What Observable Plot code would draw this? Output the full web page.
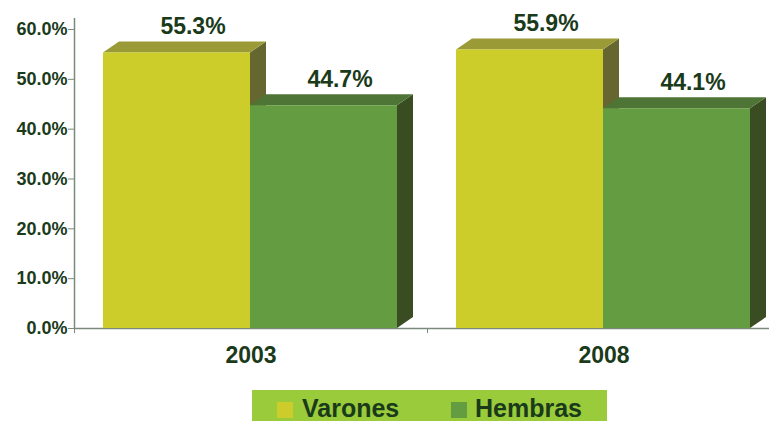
<!DOCTYPE html>
<html>
<head>
<meta charset="utf-8">
<script src="https://cdn.jsdelivr.net/npm/d3@7"></script>
<script src="https://cdn.jsdelivr.net/npm/@observablehq/plot@0.6"></script>
<style>
  html, body { margin: 0; padding: 0; background: #fff; }
  body { font-family: "Liberation Sans", Arial, sans-serif; }
  #wrap { position: relative; width: 769px; height: 421px; overflow: hidden; }
  #legend { position: absolute; left: 252px; top: 390px; width: 355px; height: 31px; background: #99cb3a; }
  .sw { position: absolute; top: 12px; width: 16px; height: 16px; }
  .lb { position: absolute; top: 6px; font-size: 25px; font-weight: bold; color: #1a3a1a; line-height: 24px; }
</style>
</head>
<body>
<div id="wrap"><div id="chart"></div><div id="legend"></div></div>
<script>
// ---- data ----
const years = ["2003", "2008"];
const series = ["Varones", "Hembras"];
const varones = [55.3, 55.9];
const hembras = [44.7, 44.1];
const yTicks = [0, 10, 20, 30, 40, 50, 60];

// ---- styles ----
const frontColors = ["#cccc2b", "#639c41"];
const topColors = ["#9a9a36", "#4e7535"];
const sideColors = ["#666631", "#394c22"];
const textColor = "#1a3a1a";
const axisColor = "#7c8a7c";

// ---- layout ----
const W = 769, H = 390, mL = 74, mT = 29, mB = 62;
const bandPx = 353, padPx = 29, barPx = 147, depthXPx = 16, depthYPx = 11;
const xMax = (W - mL) / bandPx;
const pxPerY = (H - mT - mB) / 60;
const pad = padPx / bandPx, bw = barPx / bandPx;
const dX = depthXPx / bandPx, dY = depthYPx / pxPerY;

const rows = years.flatMap((year, g) => series.map((sex, k) => {
  const v = k === 0 ? varones[g] : hembras[g];
  const x1 = g + pad + k * bw;
  return {year, sex, k, g, value: v, x1, x2: x1 + bw, id: year + sex};
}));

function faces(r) {
  const {x1, x2, value: v, id} = r;
  return {
    side: [
      {id, x: x2, y1: 0, y2: v},
      {id, x: x2 + dX, y1: dY, y2: v + dY}
    ],
    top: [
      {id, x: x1, y1: v, y2: v},
      {id, x: x1 + dX, y1: v, y2: v + dY},
      {id, x: x2, y1: v, y2: v + dY},
      {id, x: x2 + dX, y1: v + dY, y2: v + dY}
    ]
  };
}

const marks = [];
series.forEach((s, k) => {
  const rs = rows.filter(r => r.k === k);
  marks.push(Plot.areaY(rs.flatMap(r => faces(r).side), {x: "x", y1: "y1", y2: "y2", z: "id", fill: sideColors[k], curve: "linear"}));
  marks.push(Plot.areaY(rs.flatMap(r => faces(r).top), {x: "x", y1: "y1", y2: "y2", z: "id", fill: topColors[k], curve: "linear"}));
  marks.push(Plot.rectY(rs, {x1: "x1", x2: "x2", y1: 0, y2: "value", fill: frontColors[k]}));
});

const chart = Plot.plot({
  width: W, height: H,
  marginLeft: mL, marginRight: 0, marginTop: mT, marginBottom: mB,
  style: {fontFamily: "'Liberation Sans', Arial, sans-serif", background: "transparent"},
  x: {domain: [0, xMax], axis: null},
  y: {domain: [0, 60], axis: null},
  marks: [
    Plot.ruleY([0], {x1: 0, x2: xMax, stroke: axisColor, strokeWidth: 1.5}),
    Plot.ruleX([0], {y1: 0, y2: 60 + dY, stroke: axisColor, strokeWidth: 1.5}),
    ...marks,
    Plot.axisY(yTicks, {tickSize: 6, tickPadding: 1, stroke: axisColor, fill: textColor,
      fontSize: 18, fontWeight: "bold", tickFormat: d => d.toFixed(1) + "%"}),
    Plot.axisX([0, 1], {tickSize: 5, stroke: axisColor, tickFormat: () => ""}),
    Plot.axisX(years.map((y, i) => i + 0.5), {tickSize: 0, tickPadding: 18, fill: textColor,
      fontSize: 23, fontWeight: "bold", tickFormat: d => years[Math.floor(d)]}),
    Plot.text(rows, {x: r => (r.x1 + r.x2) / 2, y: "value", text: r => r.value.toFixed(1) + "%",
      dx: 16, dy: -19, lineAnchor: "bottom", fill: textColor, fontSize: 23, fontWeight: "bold"})
  ]
});
document.getElementById("chart").appendChild(chart);

// ---- legend ----
const legend = document.getElementById("legend");
const swX = [25, 199], lbX = [50, 223];
series.forEach((s, k) => {
  const sw = document.createElement("div");
  sw.className = "sw"; sw.style.left = swX[k] + "px"; sw.style.background = frontColors[k];
  const lb = document.createElement("div");
  lb.className = "lb"; lb.style.left = lbX[k] + "px"; lb.textContent = s;
  legend.appendChild(sw); legend.appendChild(lb);
});
</script>
</body>
</html>
